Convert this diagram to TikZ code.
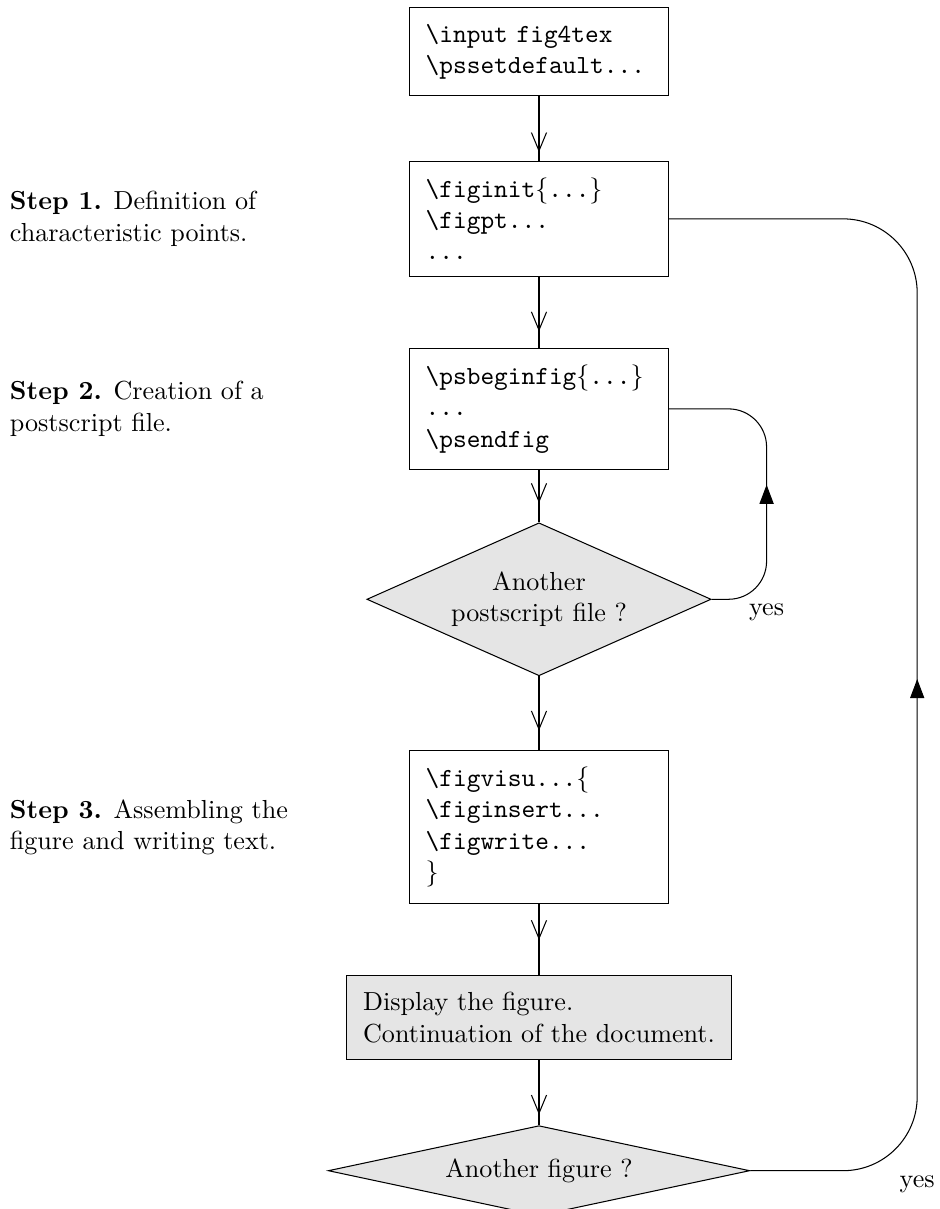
\documentclass[tikz,border=0pt]{standalone}
\usepackage{tikz}
\usetikzlibrary{positioning,shapes.geometric,arrows.meta,decorations.markings}

\tikzset{
  codebox/.style={draw, font=\ttfamily, text width=86.8pt, align=left, inner sep=6.3pt, minimum height=#1},
  showbox/.style={draw, fill=gray!20, align=left, inner sep=6.3pt, minimum height=31.5pt},
  question/.style={diamond, draw, fill=gray!20, inner sep=0pt, align=center},
  steptext/.style={anchor=west, align=left, inner sep=0pt},
  yeslabel/.style={anchor=north, inner sep=1.7pt},
  downflow/.style={decoration={markings, mark=at position #1 with {\arrow{Straight Barb[length=7pt,width=5.8pt]}}}, postaction={decorate}},
  upflow/.style={decoration={markings, mark=at position #1 with {\arrow{Triangle[length=7.3pt,width=5.4pt]}}}, postaction={decorate}}
}

\begin{document}
\begin{tikzpicture}
  \useasboundingbox (0,0) rectangle (359.8pt,-463.2pt);

  %Define nodes
  \node[codebox=33.9pt] (init) at (206.5pt,-19.75pt) {\textbackslash input fig4tex\\\textbackslash pssetdefault...};
  \node[codebox=44.3pt, below=24.6pt of init] (points) {\textbackslash figinit$\{$...$\}$\\\textbackslash figpt...\\...};
  \node[codebox=46.5pt, below=27pt of points] (psfile) {\textbackslash psbeginfig$\{$...$\}$\\...\\\textbackslash psendfig};
  \node[question, aspect=2.25, minimum width=131.9pt, minimum height=58.6pt, below=20pt of psfile] (morefile) {Another\\postscript file ?};
  \node[codebox=58.9pt, below=28.1pt of morefile] (visu) {\textbackslash figvisu...$\{$\\\textbackslash figinsert...\\\textbackslash figwrite...\\$\}$};
  \node[showbox, below=27.2pt of visu] (display) {Display the figure.\\Continuation of the document.};
  \node[question, aspect=4.68, minimum width=161.5pt, minimum height=34.5pt, below=25.1pt of display] (morefig) {Another figure ?};

  % Step captions
  \coordinate (margin) at (3.6pt,0);
  \node[steptext] (step1) at (margin |- points) {\textbf{Step 1.} Definition of\\characteristic points.};
  \node[steptext] (step2) at (margin |- psfile) {\textbf{Step 2.} Creation of a\\postscript file.};
  \node[steptext] (step3) at (margin |- visu) {\textbf{Step 3.} Assembling the\\figure and writing text.};

  % Connect the nodes
  \draw[downflow=0.87] (init) -- (points);
  \draw[downflow=0.77] (points) -- (psfile);
  \draw[downflow=0.63] (psfile) -- (morefile);
  \draw[downflow=0.74] (morefile) -- (visu);
  \draw[downflow=0.5] (visu) -- (display);
  \draw[downflow=0.84] (display) -- (morefig);

  % Loops back
  \coordinate[right=37.3pt of psfile.east] (turnfile);
  \coordinate[right=95pt of points.east] (turnfig);
  \draw[rounded corners=14.6pt, upflow=0.494] (morefile.east) -| (turnfile) -- (psfile.east);
  \draw[rounded corners=28.4pt, upflow=0.481] (morefig.east) -| (turnfig) -- (points.east);
  \node[yeslabel] (yesfile) at (turnfile |- morefile.east) {yes};
  \node[yeslabel] (yesfig) at (turnfig |- morefig.east) {yes};

\end{tikzpicture}
\end{document}
